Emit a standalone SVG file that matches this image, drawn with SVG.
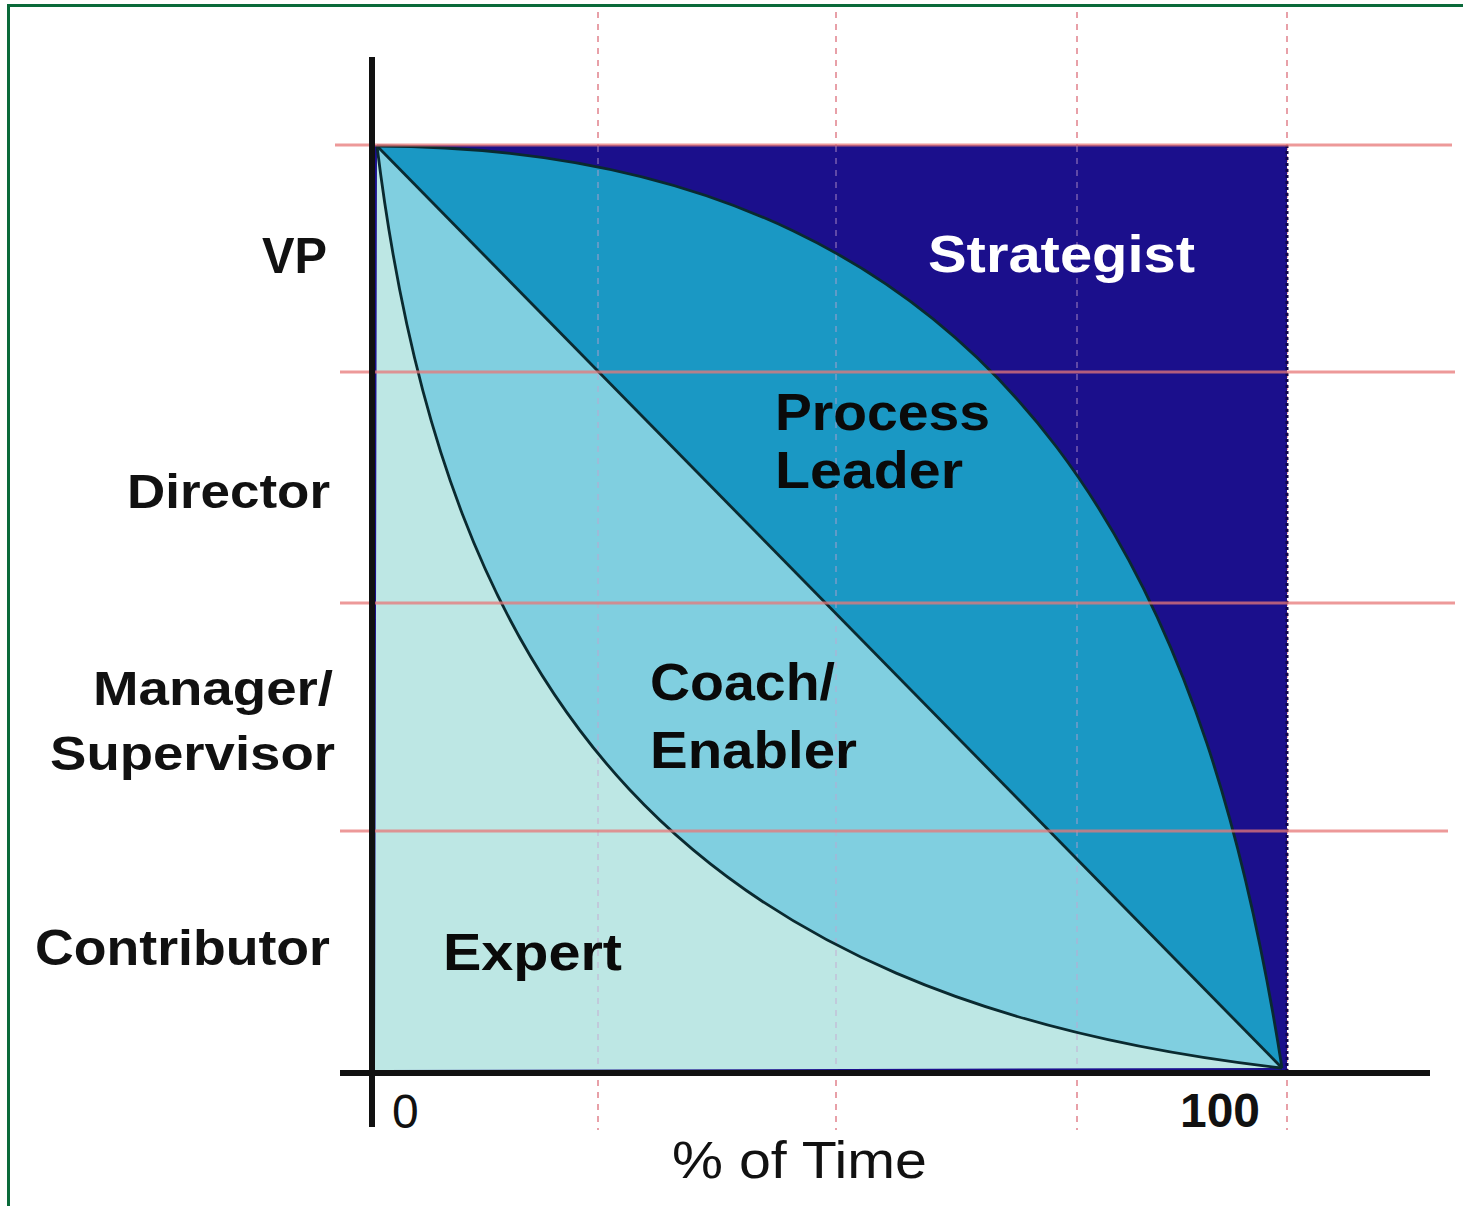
<svg xmlns="http://www.w3.org/2000/svg" width="1463" height="1206" viewBox="0 0 1463 1206">
<style>
.lbl{font-family:"Liberation Sans",Arial,sans-serif;font-weight:bold;fill:#111}
.reg{font-family:"Liberation Sans",Arial,sans-serif;font-weight:bold;fill:#0a0a0a;font-size:52px}
.grid{stroke:#e87878;stroke-width:3;opacity:0.75}
.vgrid{stroke:#e8a0a8;stroke-width:2;stroke-dasharray:6 6}
.vin{stroke:#c8a0d0;stroke-width:2;stroke-dasharray:6 6;opacity:0.4}
.bnd{fill:none;stroke:#0a2a30;stroke-width:2.8}
</style>
<rect x="0" y="0" width="1463" height="1206" fill="#fff"/>
<rect x="8.5" y="5.5" width="1470" height="1220" fill="none" stroke="#0a6a3a" stroke-width="3"/>
<g id="gridlines">
<line class="vgrid" x1="598" y1="12" x2="598" y2="1130"/>
<line class="vgrid" x1="836" y1="12" x2="836" y2="1130"/>
<line class="vgrid" x1="1077" y1="12" x2="1077" y2="1130"/>
<line class="vgrid" x1="1287" y1="12" x2="1287" y2="1130"/>
</g>
<g id="regions">
<rect id="strategist-area" x="375" y="145" width="912" height="925" fill="#1b0f8c"/>
<path id="process-area" d="M377,146 C1050,148 1215,640 1282,1068 Z" fill="#1a98c4"/>
<path id="coach-area" d="M377,146 L1282,1068 C680,1000 445,700 377,146 Z" fill="#80cfe0"/>
<path id="expert-area" d="M377,146 C445,700 680,1000 1282,1068 L375,1070 Z" fill="#bde7e4"/>
</g>
<g id="inner-grid">
<line class="vin" x1="598" y1="146" x2="598" y2="1070"/>
<line class="vin" x1="836" y1="146" x2="836" y2="1070"/>
<line class="vin" x1="1077" y1="146" x2="1077" y2="1070"/>
</g>
<g id="connectors">
<path class="bnd" d="M377,146 C1050,148 1215,640 1282,1068"/>
<path class="bnd" d="M377,146 L1282,1068"/>
<path class="bnd" d="M377,146 C445,700 680,1000 1282,1068"/>
<line x1="1287" y1="145" x2="1287" y2="1070" stroke="#12084a" stroke-width="3" stroke-dasharray="3 3"/>
</g>
<g id="hgrid">
<line class="grid" x1="335" y1="145" x2="1452" y2="145"/>
<line class="grid" x1="340" y1="372" x2="1455" y2="372"/>
<line class="grid" x1="340" y1="603" x2="1455" y2="603"/>
<line class="grid" x1="340" y1="831" x2="1448" y2="831"/>
</g>
<g id="axes">
<line x1="372" y1="57" x2="372" y2="1127" stroke="#111" stroke-width="6"/>
<line x1="340" y1="1073" x2="1430" y2="1073" stroke="#111" stroke-width="6"/>
</g>
<g id="y-labels">
<text class="lbl" x="262" y="273" font-size="50" textLength="65" lengthAdjust="spacingAndGlyphs">VP</text>
<text class="lbl" x="127" y="508" font-size="48" textLength="203" lengthAdjust="spacingAndGlyphs">Director</text>
<text class="lbl" x="93" y="705" font-size="48" textLength="240" lengthAdjust="spacingAndGlyphs">Manager/</text>
<text class="lbl" x="50" y="770" font-size="48" textLength="285" lengthAdjust="spacingAndGlyphs">Supervisor</text>
<text class="lbl" x="35" y="965" font-size="50" textLength="295" lengthAdjust="spacingAndGlyphs">Contributor</text>
</g>
<g id="strategist"><text class="reg" x="928" y="272" font-size="56" style="fill:#fff" textLength="267" lengthAdjust="spacingAndGlyphs">Strategist</text></g>
<g id="process-leader">
<text class="reg" x="775" y="430" textLength="215" lengthAdjust="spacingAndGlyphs">Process</text>
<text class="reg" x="775" y="488" textLength="188" lengthAdjust="spacingAndGlyphs">Leader</text>
</g>
<g id="coach-enabler">
<text class="reg" x="650" y="700" textLength="185" lengthAdjust="spacingAndGlyphs">Coach/</text>
<text class="reg" x="650" y="768" textLength="207" lengthAdjust="spacingAndGlyphs">Enabler</text>
</g>
<g id="expert"><text class="reg" x="443" y="970" textLength="179" lengthAdjust="spacingAndGlyphs">Expert</text></g>
<g id="x-labels">
<text class="lbl" x="392" y="1128" font-size="48" style="font-weight:normal">0</text>
<text class="lbl" x="1180" y="1127" font-size="48" textLength="80" lengthAdjust="spacingAndGlyphs">100</text>
<text class="lbl" x="672" y="1178" font-size="52" style="font-weight:normal" textLength="255" lengthAdjust="spacingAndGlyphs">% of Time</text>
</g>
</svg>
